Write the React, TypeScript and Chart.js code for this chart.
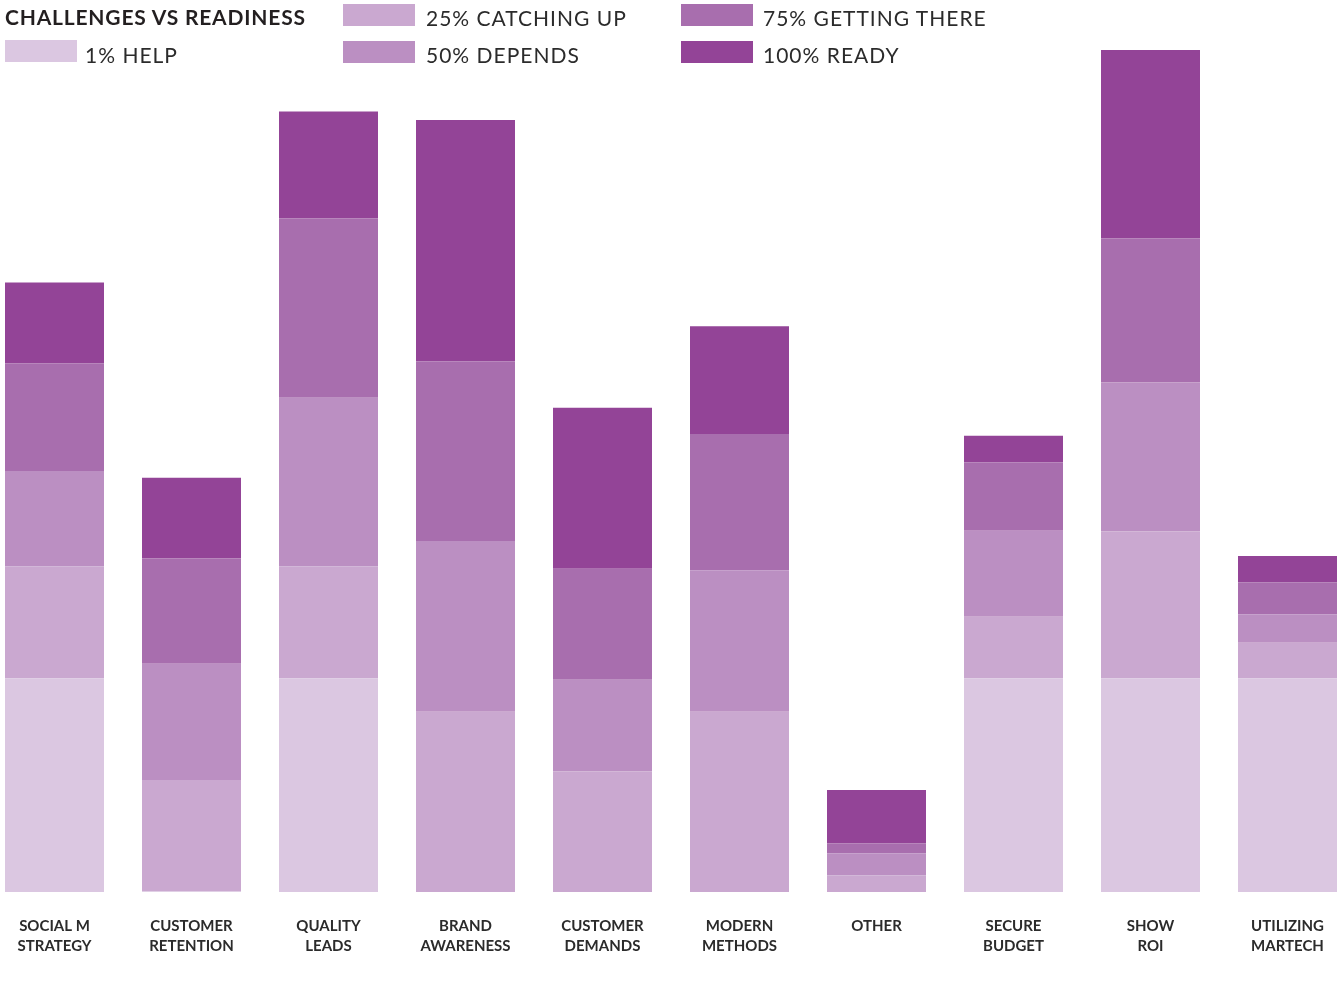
import React, { useEffect, useRef } from "react";
import { Chart, registerables } from "chart.js";

Chart.register(...registerables);

const categories: string[][] = [
  ["SOCIAL M", "STRATEGY"],
  ["CUSTOMER", "RETENTION"],
  ["QUALITY", "LEADS"],
  ["BRAND", "AWARENESS"],
  ["CUSTOMER", "DEMANDS"],
  ["MODERN", "METHODS"],
  ["OTHER"],
  ["SECURE", "BUDGET"],
  ["SHOW", "ROI"],
  ["UTILIZING", "MARTECH"],
];

const seriesNames = ["1% HELP", "25% CATCHING UP", "50% DEPENDS", "75% GETTING THERE", "100% READY"];

const help1 = [25.4, 0.1, 25.4, 0, 0, 0, 0, 25.4, 25.4, 25.4];
const catching25 = [13.3, 13.2, 13.3, 21.4, 14.3, 21.4, 2.0, 7.3, 17.4, 4.2];
const depends50 = [11.3, 13.8, 20.0, 20.3, 10.9, 16.8, 2.6, 10.2, 17.7, 3.4];
const getting75 = [12.8, 12.5, 21.3, 21.3, 13.2, 16.2, 1.2, 8.1, 17.1, 3.8];
const ready100 = [9.6, 9.6, 12.7, 28.7, 19.1, 12.8, 6.3, 3.2, 22.4, 3.1];

const colors = ["#dbc7e1", "#caa8d0", "#bb8fc2", "#a86eae", "#934497"];

const FONT = "Lato, 'Open Sans', sans-serif";

export default function App() {
  const ref = useRef<HTMLCanvasElement | null>(null);

  useEffect(() => {
    if (!ref.current) return;
    const series = [help1, catching25, depends50, getting75, ready100];
    const chart = new Chart(ref.current, {
      type: "bar",
      data: {
        labels: categories,
        datasets: series.map((d, i) => ({
          label: seriesNames[i],
          data: d,
          backgroundColor: colors[i],
          borderWidth: 0,
          categoryPercentage: 1,
          barPercentage: 0.7226,
        })),
      },
      options: {
        responsive: false,
        animation: false,
        devicePixelRatio: 1,
        layout: { padding: { top: 50, bottom: 1, left: 0, right: 0 } },
        plugins: {
          legend: { display: false },
          tooltip: { enabled: false },
          title: { display: false },
        },
        scales: {
          x: {
            stacked: true,
            grid: { display: false, drawTicks: false },
            border: { display: false },
            ticks: {
              padding: 24,
              maxRotation: 0,
              autoSkip: false,
              color: "#2b2b2b",
              font: { family: FONT, size: 15, weight: "bold", lineHeight: 20 / 15 },
            },
          },
          y: {
            stacked: true,
            display: false,
            min: 0,
            max: 100,
          },
        },
      },
    });
    return () => chart.destroy();
  }, []);

  const legendText: React.CSSProperties = {
    position: "absolute",
    fontFamily: FONT,
    fontSize: 21,
    color: "#2b2b2b",
    lineHeight: "24px",
    whiteSpace: "nowrap",
    letterSpacing: "1px",
  };
  const sw = (x: number, y: number, c: string): React.CSSProperties => ({
    position: "absolute",
    left: x,
    top: y,
    width: 72,
    height: 22,
    background: c,
  });

  const items = [
    { sx: 5, sy: 40, tx: 85, ty: 43, i: 0 },
    { sx: 343, sy: 4, tx: 426, ty: 6, i: 1 },
    { sx: 343, sy: 41, tx: 426, ty: 43, i: 2 },
    { sx: 681, sy: 4, tx: 763, ty: 6, i: 3 },
    { sx: 681, sy: 41, tx: 763, ty: 43, i: 4 },
  ];

  return (
    <div
      style={{
        position: "absolute",
        left: 0,
        top: 0,
        width: 1343,
        height: 981,
        overflow: "hidden",
        background: "#ffffff",
      }}
    >
      <canvas
        ref={ref}
        width={1370}
        height={981}
        style={{ position: "absolute", left: -14, top: 0, width: 1370, height: 981 }}
      />
      <div
        style={{
          position: "absolute",
          left: 5,
          top: 5,
          fontFamily: FONT,
          fontWeight: "bold",
          fontSize: 21,
          lineHeight: "24px",
          letterSpacing: "0.8px",
          color: "#231f20",
          whiteSpace: "nowrap",
        }}
      >
        CHALLENGES VS READINESS
      </div>
      {items.map((it) => (
        <React.Fragment key={it.i}>
          <div style={sw(it.sx, it.sy, colors[it.i])} />
          <div style={{ ...legendText, left: it.tx, top: it.ty }}>{seriesNames[it.i]}</div>
        </React.Fragment>
      ))}
    </div>
  );
}
